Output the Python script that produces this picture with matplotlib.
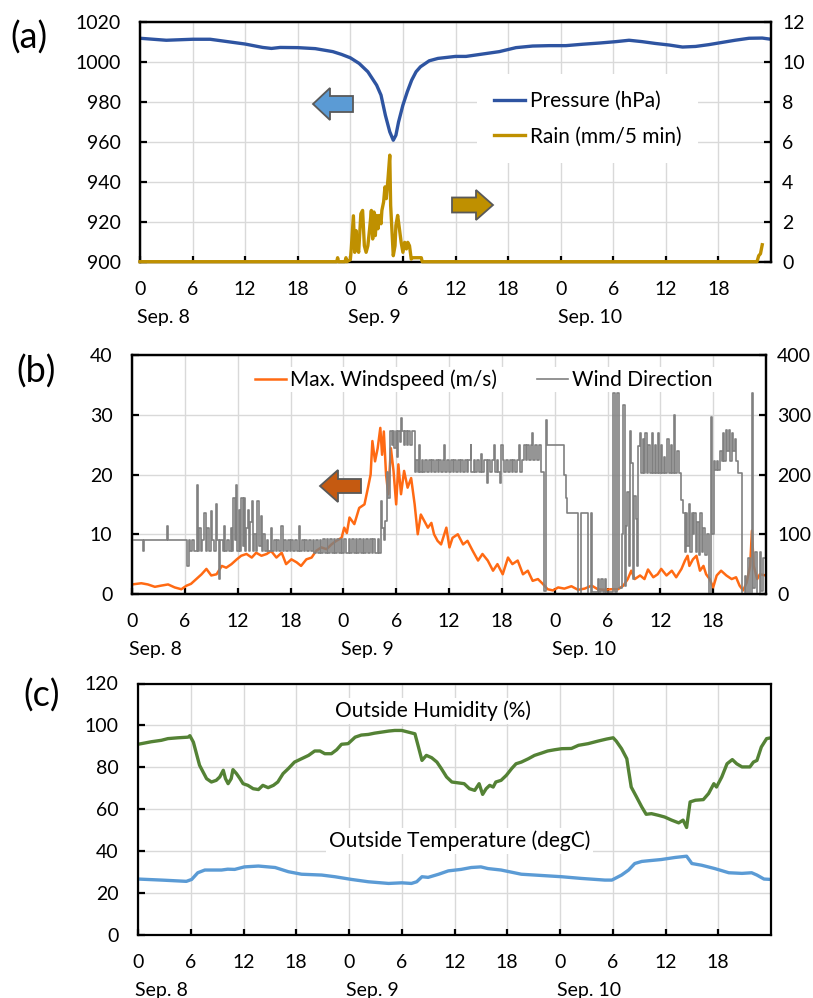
import matplotlib
matplotlib.use('Agg')
import matplotlib.pyplot as plt
from matplotlib.patches import Polygon

plt.rcParams['font.family'] = ['Lato', 'DejaVu Sans']

# ---- data (hours from Sep. 8 00:00) ----
pres_h = [0, 3, 6, 8, 10, 12, 14, 15, 16, 18, 20, 22, 23, 24, 25, 26, 27, 27.5,
          28, 28.5, 28.9, 29.2, 29.5, 30, 30.5, 31, 31.5, 32, 33, 34, 35, 36,
          37.2, 39.1, 41, 42.9, 44.8, 46.7, 48.6, 50.5, 52.4, 54.3, 55.8, 57.3,
          58.8, 60.4, 61.9, 63.4, 64.9, 66.4, 67.9, 69.5, 71, 72]
pres_hpa = [1012.0, 1011.0, 1011.5, 1011.5, 1010.3, 1009.1, 1007.4, 1006.9,
            1007.4, 1007.3, 1006.8, 1005.3, 1003.9, 1002.2, 999.4, 995.2, 988.5,
            983.5, 973.4, 965.1, 960.9, 963.4, 970.0, 978.5, 985.2, 991.0, 995.2,
            997.7, 1000.7, 1001.9, 1002.4, 1002.9, 1002.9, 1004.1, 1005.3,
            1007.3, 1008.1, 1008.3, 1008.3, 1009.0, 1009.6, 1010.3, 1011.0,
            1010.3, 1009.4, 1008.6, 1007.6, 1007.9, 1008.8, 1009.9, 1011.0,
            1012.0, 1012.1, 1011.5]

rain_h = [0, 22.45, 22.55, 22.65, 23.4, 23.5, 23.6, 24.0, 24.1, 24.35, 24.5, 24.65,
          24.8, 24.95, 25.2, 25.4, 25.6, 25.8, 26.0, 26.2, 26.4, 26.55, 26.7,
          26.85, 27.0, 27.15, 27.3, 27.5, 27.6, 27.8, 27.95, 28.1, 28.3, 28.5,
          28.6, 28.8, 28.9, 29.1, 29.2, 29.4, 29.6, 29.8, 30.0, 30.2, 30.4,
          30.55, 30.75, 30.95, 31.1, 32.1, 32.2, 70.4, 70.6, 70.8, 71.0]
rain_mm = [0, 0, 0.2, 0, 0, 0.2, 0, 0.1, 0.6, 2.3, 0.47, 1.56, 0.8, 0.47, 2.4,
           2.57, 0.8, 0.47, 0.8, 1.65, 2.57, 1.14, 2.49, 1.31, 2.32, 1.65, 2.32,
           1.9, 2.57, 3.0, 3.75, 3.16, 4.17, 5.34, 2.82, 1.14, 0.3, 0.8, 1.82,
           2.32, 1.65, 0.97, 0.47, 0.97, 0.64, 0.97, 0.8, 0.13, 0.2, 0.2, 0,
           0, 0.3, 0.4, 0.85]

ws_h = [0, 1.06, 1.8, 2.6, 3.3, 4.1, 4.85, 5.6, 6.2, 6.7, 7.3, 7.9, 8.45, 9.0,
        9.6, 10.2, 10.7, 11.3, 11.9, 12.4, 13.0, 13.6, 14.1, 14.7, 15.3, 15.8,
        16.4, 17.0, 17.5, 18.1, 18.7, 19.2, 19.8, 20.4, 20.9, 21.5, 22.1, 22.65,
        23.2, 23.8, 24.1, 24.4, 24.7, 25.25, 25.8, 26.4, 26.8, 27.1, 27.3, 27.6,
        27.9, 28.2, 28.4, 28.6, 28.85, 29.1, 29.4, 29.7, 30.0, 30.25, 30.55,
        30.9, 31.3, 31.7, 32.1, 32.45, 32.8, 33.2, 33.6, 34.0, 34.3, 34.7, 35.1,
        35.7, 36.05, 36.4, 37.0, 37.6, 38.1, 38.7, 39.3, 39.8, 40.4, 41.0, 41.5,
        42.1, 42.7, 43.2, 43.8, 44.4, 44.95, 45.5, 46.1, 46.65, 47.2, 47.8,
        48.4, 49.1, 49.9, 50.65, 51.4, 52.2, 52.9, 53.7, 54.4, 55.2, 55.8, 56.3,
        56.7, 57.1, 57.7, 58.2, 58.6, 59.2, 59.7, 60.1, 60.7, 61.3, 61.8, 62.4,
        62.8, 63.1, 63.3, 63.7, 64.1, 64.5, 64.9, 65.2, 65.6, 66.0, 66.4, 66.9,
        67.5, 68.1, 68.6, 69.0, 69.4, 69.8, 70.2, 70.4, 70.6, 71.0, 71.3, 72.0]
ws_ms = [1.6, 1.8, 1.6, 1.2, 1.4, 1.6, 1.1, 0.8, 1.4, 1.7, 2.5, 3.3, 4.2, 3.1,
         3.3, 4.7, 4.4, 5.0, 5.8, 6.4, 6.7, 6.1, 6.9, 6.4, 6.7, 7.2, 6.1, 6.9,
         5.0, 5.8, 5.3, 4.7, 5.8, 6.1, 7.2, 7.8, 7.5, 8.3, 8.9, 9.4, 11.1, 10.2,
         12.8, 11.7, 14.4, 15.0, 17.8, 20.0, 25.6, 22.2, 24.4, 27.8, 23.3, 27.2,
         20.0, 16.7, 24.4, 20.6, 15.0, 21.7, 16.7, 20.6, 17.8, 19.4, 15.0, 10.0,
         13.3, 12.2, 11.1, 11.9, 10.0, 8.9, 8.3, 11.1, 7.8, 9.4, 10.0, 8.3, 8.9,
         7.2, 5.6, 6.7, 5.6, 3.9, 5.0, 3.3, 6.1, 5.0, 5.6, 3.3, 3.9, 2.2, 2.5,
         1.7, 0.8, 0.6, 1.1, 0.9, 1.3, 0.7, 0.9, 1.4, 0.8, 0.7, 0.8, 0.8, 1.4,
         2.5, 3.9, 2.5, 3.1, 2.5, 4.1, 2.8, 3.3, 4.2, 3.1, 3.9, 2.8, 4.2, 5.6,
         6.4, 4.7, 5.8, 6.4, 3.9, 4.7, 3.3, 2.5, 1.1, 3.1, 3.9, 3.1, 2.5, 2.8,
         1.4, 0.6, 1.9, 4.7, 10.6, 4.7, 2.5, 3.3, 3.1]

wd_h = [0.0, 1.2, 1.35, 4.0, 4.1, 6.3, 6.45, 6.6, 6.85, 7.05, 7.35, 7.45, 7.65,
        7.8, 8.0, 8.2, 8.35, 8.55, 8.7, 8.95, 9.1, 9.3, 9.55, 9.7, 9.9, 10.05,
        10.3, 10.45, 10.6, 10.8, 11.0, 11.2, 11.35, 11.5, 11.65, 11.8, 11.95,
        12.1, 12.25, 12.4, 12.55, 12.7, 12.85, 13.0, 13.15, 13.3, 13.45, 13.6,
        13.75, 13.9, 14.05, 14.25, 14.4, 14.6, 14.75, 14.9, 15.1, 15.3, 15.5,
        15.75, 15.9, 16.1, 16.3, 16.5, 16.7, 16.95, 17.1, 17.3, 17.5, 17.7,
        17.9, 18.1, 18.3, 18.5, 18.7, 19.0, 19.1, 19.3, 19.5, 19.7, 19.9, 20.1,
        20.3, 20.5, 20.7, 20.9, 21.1, 21.3, 21.5, 21.7, 21.9, 22.1, 22.3, 22.5,
        22.7, 22.9, 23.1, 23.3, 23.5, 23.7, 23.9, 24.1, 24.3, 24.6, 24.8, 25.0,
        25.2, 25.4, 25.6, 25.8, 26.0, 26.2, 26.4, 26.6, 26.8, 27.0, 27.2, 27.4,
        27.6, 27.9, 28.1, 28.25, 28.4, 28.6, 28.75, 28.95, 29.1, 29.3, 29.5,
        29.65, 29.8, 29.95, 30.1, 30.25, 30.45, 30.6, 30.7, 30.9, 31.05, 31.25,
        31.4, 31.6, 31.8, 32.15, 32.3, 32.5, 32.6, 32.7, 32.9, 33.1, 33.3, 33.5,
        33.7, 33.9, 34.1, 34.3, 34.5, 34.7, 34.9, 35.1, 35.3, 35.45, 35.55,
        35.8, 36.0, 36.2, 36.4, 36.6, 36.8, 37.0, 37.2, 37.4, 37.6, 37.8, 38.0,
        38.2, 38.45, 38.55, 38.8, 39.0, 39.2, 39.4, 39.6, 39.8, 40.0, 40.3,
        40.45, 40.65, 40.85, 41.1, 41.2, 41.4, 41.6, 41.8, 41.95, 42.1, 42.3,
        42.5, 42.7, 42.9, 43.1, 43.3, 43.5, 43.7, 43.95, 44.05, 44.3, 44.5,
        44.7, 44.9, 45.1, 45.3, 45.45, 45.55, 45.8, 46.0, 46.2, 46.4, 46.8,
        47.0, 47.15, 49.1, 49.25, 49.4, 50.6, 50.95, 51.75, 52.1, 52.2, 52.9,
        53.0, 53.3, 53.5, 53.7, 53.8, 54.65, 54.9, 55.05, 55.3, 55.6, 55.8,
        55.95, 56.1, 56.25, 56.4, 56.55, 56.7, 56.85, 57.0, 57.2, 57.35, 57.5,
        57.7, 57.85, 58.0, 58.15, 58.3, 58.45, 58.65, 58.8, 59.0, 59.15, 59.35,
        59.5, 59.7, 59.85, 60.05, 60.2, 60.4, 60.55, 60.8, 60.95, 61.2, 61.35,
        61.6, 61.7, 61.9, 62.1, 62.35, 62.55, 62.75, 62.9, 63.05, 63.2, 63.35,
        63.55, 63.7, 63.85, 64.0, 64.2, 64.35, 64.55, 64.7, 64.9, 65.05, 65.25,
        65.5, 65.8, 65.9, 66.05, 66.2, 66.4, 66.6, 66.8, 66.95, 67.1, 67.25,
        67.45, 67.6, 67.75, 67.9, 68.1, 68.25, 68.45, 68.6, 68.8, 69.3, 69.6,
        69.75, 70.0, 70.15, 70.45, 70.55, 70.8, 70.95, 71.3, 71.45, 71.7, 72.0]
wd_deg = [90, 72, 90, 114, 90, 47, 90, 72, 90, 72, 182, 72, 110,
          72, 90, 136, 72, 110, 72, 139, 90, 72, 150, 90, 25, 90,
          72, 114, 72, 90, 72, 110, 72, 160, 90, 182, 72,
          140, 72, 160, 80, 160, 72, 110, 140, 72, 120, 156,
          72, 100, 72, 156, 80, 130, 72, 100, 72, 90, 72,
          110, 72, 90, 72, 90, 72, 114, 72, 90, 72, 90,
          72, 90, 72, 90, 72, 114, 72, 90, 72, 90, 72, 90,
          72, 90, 69, 90, 69, 90, 69, 92, 69, 92, 69, 92,
          69, 92, 69, 92, 69, 92, 69, 92, 69, 92, 69, 92,
          69, 92, 69, 92, 69, 92, 69, 92, 69, 92, 69, 92,
          69, 92, 69, 156, 111, 90, 122, 205, 160, 272, 250,
          272, 245, 272, 230, 272, 255, 295, 272, 250, 272, 250,
          272, 250, 272, 205, 225, 205, 250, 205, 225, 205, 225, 205,
          225, 205, 225, 205, 225, 205, 225, 205, 225, 250, 205,
          225, 205, 225, 205, 225, 205, 225, 205, 225, 205, 225, 205,
          225, 250, 205, 225, 205, 225, 205, 235, 205, 225, 185,
          225, 205, 225, 250, 205, 225, 205, 185, 250, 225, 205,
          225, 205, 225, 205, 225, 205, 225, 250, 205, 225, 250,
          225, 250, 225, 250, 270, 225, 250, 225, 250, 205, 5,
          292, 250, 200, 161, 136, 0, 136, 0, 136, 3, 25,
          3, 25, 3, 25, 3, 336, 3, 336, 10, 100, 317,
          14, 114, 170, 47, 272, 220, 25, 164, 125, 47, 247,
          270, 203, 260, 203, 270, 203, 250, 203, 270, 203, 250,
          203, 270, 203, 250, 203, 230, 203, 260, 203, 250, 203,
          300, 203, 240, 203, 158, 136, 70, 136, 80, 150, 70,
          136, 100, 136, 70, 120, 65, 136, 70, 110, 65, 100,
          0, 296, 100, 222, 208, 222, 208, 240, 222, 270, 222,
          275, 240, 275, 222, 270, 240, 260, 222, 203, 0, 30,
          0, 60, 0, 337, 10, 70, 0, 70, 5, 60, 30]

hum_h = [0, 0.76, 1.5, 2.66, 3.4, 4.55, 5.7, 5.9, 6.3, 6.65, 7.0, 7.4, 7.8, 8.35,
         8.9, 9.3, 9.7, 9.95, 10.25, 10.6, 10.8, 11.2, 11.6, 11.95, 12.5, 13.1,
         13.7, 14.2, 14.8, 15.4, 15.9, 16.5, 17.1, 17.8, 18.6, 19.4, 20.1, 20.7,
         21.25, 22.0, 22.6, 23.15, 23.9, 24.7, 25.4, 26.2, 26.9, 27.7, 28.5,
         29.2, 30.0, 30.75, 31.5, 31.9, 32.3, 32.8, 33.4, 34.0, 34.5, 35.1,
         35.7, 36.4, 37.1, 37.7, 38.3, 38.8, 39.2, 39.6, 40.0, 40.4, 40.7, 41.3,
         41.9, 42.5, 43.0, 43.6, 44.4, 45.1, 45.9, 46.6, 47.4, 48.2, 49.3,
         50.1, 51.2, 52.3, 53.3, 54.05, 54.4, 55.0, 55.6, 55.8, 56.1, 56.7,
         57.3, 57.8, 58.4, 59.2, 59.9, 60.7, 61.5, 62.0, 62.4, 62.8, 63.4,
         64.3, 64.9, 65.5, 65.8, 66.4, 67.0, 67.6, 68.1, 68.7, 69.6, 70.0,
         70.4, 70.9, 71.5, 72.0]
hum_pct = [91.0, 91.6, 92.2, 92.9, 93.7, 94.1, 94.4, 95.1, 92.0, 86.5, 81.0,
           77.8, 74.6, 73.0, 73.8, 75.4, 78.6, 74.6, 72.2, 74.6, 78.9, 77.0,
           74.6, 72.2, 71.4, 69.8, 69.4, 71.4, 70.3, 71.4, 73.0, 77.0, 79.4,
           82.5, 84.1, 85.7, 87.8, 87.8, 86.5, 86.5, 88.4, 91.0, 91.3, 94.4,
           95.4, 95.7, 96.3, 96.8, 97.3, 97.6, 97.6, 96.8, 96.0, 89.7, 83.3,
           85.7, 84.6, 82.5, 79.4, 75.4, 73.0, 72.6, 72.2, 69.8, 69.0, 72.2,
           67.1, 69.8, 71.4, 70.6, 73.0, 73.8, 76.2, 79.4, 81.7, 82.5, 84.1,
           85.7, 86.8, 87.8, 88.4, 88.9, 89.0, 90.5, 91.3, 92.5, 93.5, 94.1,
           92.5, 88.9, 84.1, 78.6, 70.6, 65.9, 61.1, 57.6, 57.9, 57.1, 56.3,
           54.8, 53.5, 54.8, 51.3, 63.5, 64.3, 64.6, 67.5, 72.2, 70.6, 75.4,
           81.7, 83.7, 81.7, 80.2, 80.2, 82.5, 83.3, 89.7, 93.7, 94.1]

temp_h = [0, 2.7, 5.5, 6.1, 6.8, 7.6, 9.5, 10.2, 11.0, 12.1, 13.7, 15.6, 17.1,
          18.6, 20.9, 22.4, 24.3, 26.2, 28.5, 30.0, 31.1, 31.7, 32.3, 33.0,
          34.2, 35.3, 36.75, 37.9, 39.0, 39.8, 41.3, 42.8, 43.6, 45.9, 48.2,
          50.4, 53.1, 53.9, 55.0, 55.8, 56.5, 57.3, 58.0, 59.5, 61.1, 62.4,
          63.0, 64.1, 65.6, 67.2, 68.7, 69.8, 70.4, 71.2, 72.0]
temp_c = [26.7, 26.2, 25.6, 26.5, 29.7, 31.0, 31.0, 31.4, 31.3, 32.5, 32.9,
          32.2, 30.2, 29.0, 28.6, 27.8, 26.5, 25.4, 24.6, 24.9, 24.6, 25.4,
          27.8, 27.5, 29.0, 30.6, 31.3, 32.2, 32.5, 31.7, 31.0, 29.7, 29.0,
          28.4, 27.8, 27.0, 26.2, 26.2, 28.6, 31.0, 34.1, 35.1, 35.4, 36.0,
          37.0, 37.6, 34.1, 33.3, 31.7, 29.7, 29.4, 29.7, 28.6, 26.7, 26.5]

hour_ticks = list(range(0, 72, 6))
hour_labels = ['0', '6', '12', '18'] * 3
day_starts = [0, 24, 48]
day_labels = ['Sep. 8', 'Sep. 9', 'Sep. 10']

W, H = 813, 998
FS = 14      # tick labels
TFS = 15     # legends and captions
GRID = '#D9D9D9'


def px_axes(left, right, top, bottom):
    # box given in pixels from top-left of the picture
    return fig.add_axes([left / W, 1 - bottom / H, (right - left) / W, (bottom - top) / H])


def style(ax, ylim, yticks):
    ax.set_xlim(0, 72)
    ax.set_ylim(*ylim)
    ax.set_yticks(yticks)
    ax.set_xticks(hour_ticks)
    ax.set_xticklabels(hour_labels)
    ax.grid(True, color=GRID, linewidth=1.0)
    ax.set_axisbelow(True)
    for s in ax.spines.values():
        s.set_linewidth(1.6)
        s.set_color('black')
    ax.tick_params(axis='x', direction='in', length=4, width=1.6, labelsize=FS, pad=14)
    ax.tick_params(axis='y', direction='in', length=5, width=1.6, labelsize=FS, pad=14)
    for d, lab in zip(day_starts, day_labels):
        ax.annotate(lab, xy=(d, 0), xycoords=('data', 'axes fraction'),
                    xytext=(-2, -40), textcoords='offset points',
                    ha='left', va='center', fontsize=FS)


def right_axis(ax, ylim, yticks):
    axr = ax.twinx()
    axr.set_ylim(*ylim)
    axr.set_yticks(yticks)
    axr.tick_params(axis='y', direction='in', length=5, width=1.6, labelsize=FS, pad=8)
    for s in axr.spines.values():
        s.set_linewidth(1.6)
    return axr


def block_arrow(tip_x, tail_x, yc, body, head, head_len, color):
    d = 1 if tail_x > tip_x else -1
    bx = tip_x + d * head_len
    pts = [(tip_x, yc), (bx, yc - head / 2), (bx, yc - body / 2), (tail_x, yc - body / 2),
           (tail_x, yc + body / 2), (bx, yc + body / 2), (bx, yc + head / 2)]
    pts = [(x / 100.0, (H - y) / 100.0) for x, y in pts]
    fig.add_artist(Polygon(pts, closed=True, transform=fig.dpi_scale_trans,
                           facecolor=color, edgecolor='#595959', linewidth=1.3, zorder=10))


fig = plt.figure(figsize=(W / 100, H / 100), dpi=100)

# ---------------- (a) pressure / rain ----------------
ax1 = px_axes(140, 771, 22.3, 261.7)
style(ax1, (900, 1020), range(900, 1021, 20))
p_line, = ax1.plot(pres_h, pres_hpa, color='#2E54A1', linewidth=2.4, label='Pressure (hPa)')
ax1b = right_axis(ax1, (0, 12), range(0, 13, 2))
r_line, = ax1b.plot(rain_h, rain_mm, color='#BF9000', linewidth=2.4,
                    label='Rain (mm/5 min)', zorder=3, clip_on=False)
leg = ax1b.legend(handles=[p_line, r_line], loc='upper left',
                  bbox_to_anchor=(467 / W, 1 - 64 / H), bbox_transform=fig.transFigure,
                  fontsize=TFS, frameon=True, fancybox=False, framealpha=1,
                  handlelength=1.5, handletextpad=0.2, labelspacing=0.75, borderpad=0.8)
leg.get_frame().set_edgecolor('none')
fig.text(29 / W, 1 - 38 / H, '(a)', fontsize=26, ha='center', va='center')
block_arrow(313, 353, 104, 16, 32, 17, '#5B9BD5')
block_arrow(493, 452, 205, 15, 30, 17, '#BF9000')

# ---------------- (b) wind ----------------
ax2 = px_axes(132, 766, 355, 594)
style(ax2, (0, 40), range(0, 41, 10))
w_line, = ax2.plot(ws_h, ws_ms, color='#FF6A13', linewidth=1.8, label='Max. Windspeed (m/s)')
ax2b = right_axis(ax2, (0, 400), range(0, 401, 100))
d_line, = ax2b.plot(wd_h, wd_deg, color='#808080', linewidth=1.2,
                    drawstyle='steps-post', label='Wind Direction')
leg2 = ax2b.legend(handles=[w_line, d_line], loc='upper left', ncol=2,
                   bbox_to_anchor=(242 / W, 1 - 357 / H), bbox_transform=fig.transFigure,
                   fontsize=TFS, frameon=True, fancybox=False, framealpha=1,
                   handlelength=1.5, handletextpad=0.2, columnspacing=1.9, borderpad=0.1)
leg2.get_frame().set_edgecolor('none')
fig.text(36 / W, 1 - 372 / H, '(b)', fontsize=26, ha='center', va='center')
block_arrow(320, 361, 486, 14, 32, 18, '#C55A11')

# ---------------- (c) humidity / temperature ----------------
ax3 = px_axes(138, 771, 683.5, 935)
style(ax3, (0, 120), range(0, 121, 20))
ax3.tick_params(axis='y', right=False)
ax3.plot(hum_h, hum_pct, color='#548235', linewidth=2.4)
ax3.plot(temp_h, temp_c, color='#5B9BD5', linewidth=2.4)
bb = dict(facecolor='white', edgecolor='none', pad=2)
ax3.text(33.5, 106.9, 'Outside Humidity (%)', fontsize=TFS, ha='center', va='center', bbox=bb)
ax3.text(36.6, 44.9, 'Outside Temperature (degC)', fontsize=TFS, ha='center', va='center', bbox=bb)
fig.text(42 / W, 1 - 696 / H, '(c)', fontsize=26, ha='center', va='center')

fig.savefig('out.png', dpi=100)
